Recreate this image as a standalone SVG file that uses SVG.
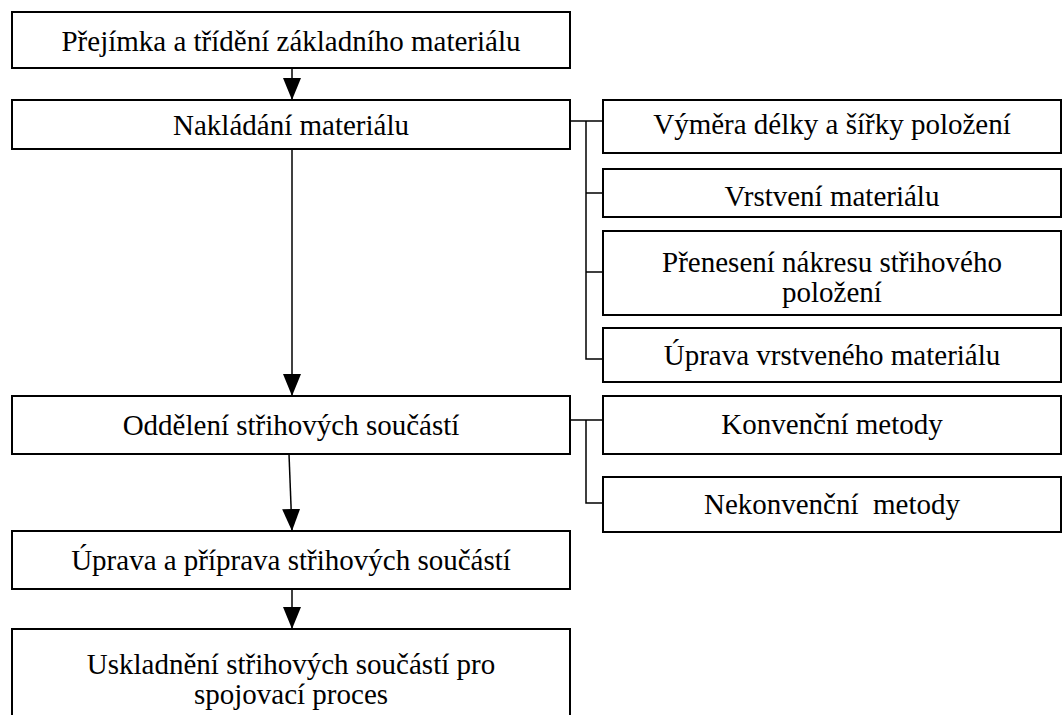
<svg xmlns="http://www.w3.org/2000/svg" width="1063" height="715" viewBox="0 0 1063 715">
<style>
.box{fill:#fff;stroke:#000;stroke-width:2}
.t{font-family:"Liberation Serif","Times New Roman",serif;font-size:29px;fill:#000;text-anchor:middle;white-space:pre}
.c{fill:none;stroke:#000;stroke-width:1.5}
</style>
<defs>
<marker id="ah" markerUnits="userSpaceOnUse" markerWidth="22" markerHeight="18" refX="22" refY="9" orient="auto">
<path d="M0,0 L22,9 L0,18 z" fill="#000"/>
</marker>
</defs>
<rect width="1063" height="715" fill="#fff"/>
<g id="connectors">
<path class="c" d="M292,68 V100" marker-end="url(#ah)"/>
<path class="c" d="M292,149 V396" marker-end="url(#ah)"/>
<path class="c" d="M289,454 L292,531" marker-end="url(#ah)"/>
<path class="c" d="M292,589 V629" marker-end="url(#ah)"/>
<path class="c" d="M570,121 H603 M586,121 V359 H603 M586,193 H603 M586,272 H603"/>
<path class="c" d="M570,420 H603 M586,420 V503 H603"/>
</g>
<g id="n1"><rect class="box" x="12" y="12" width="558" height="56"/><text class="t" x="291" y="51">Přejímka a třídění základního materiálu</text></g>
<g id="n2"><rect class="box" x="12" y="100" width="558" height="49"/><text class="t" x="291" y="135">Nakládání materiálu</text></g>
<g id="n3"><rect class="box" x="603" y="100" width="458" height="53"/><text class="t" x="832" y="134">Výměra délky a šířky položení</text></g>
<g id="n4"><rect class="box" x="603" y="169" width="458" height="48"/><text class="t" x="832" y="206">Vrstvení materiálu</text></g>
<g id="n5"><rect class="box" x="603" y="231" width="458" height="84"/><text class="t" x="832" y="272">Přenesení nákresu střihového</text><text class="t" x="832" y="302">položení</text></g>
<g id="n6"><rect class="box" x="603" y="328" width="458" height="54"/><text class="t" x="832" y="365">Úprava vrstveného materiálu</text></g>
<g id="n7"><rect class="box" x="12" y="396" width="558" height="58"/><text class="t" x="291" y="435">Oddělení střihových součástí</text></g>
<g id="n8"><rect class="box" x="603" y="396" width="458" height="58"/><text class="t" x="832" y="434">Konvenční metody</text></g>
<g id="n9"><rect class="box" x="603" y="477" width="458" height="55"/><text class="t" x="832" y="514">Nekonvenční  metody</text></g>
<g id="n10"><rect class="box" x="12" y="531" width="558" height="58"/><text class="t" x="291" y="570">Úprava a příprava střihových součástí</text></g>
<g id="n11"><rect class="box" x="12" y="629" width="558" height="100"/><text class="t" x="291" y="674">Uskladnění střihových součástí pro</text><text class="t" x="291" y="704">spojovací proces</text></g>
</svg>
